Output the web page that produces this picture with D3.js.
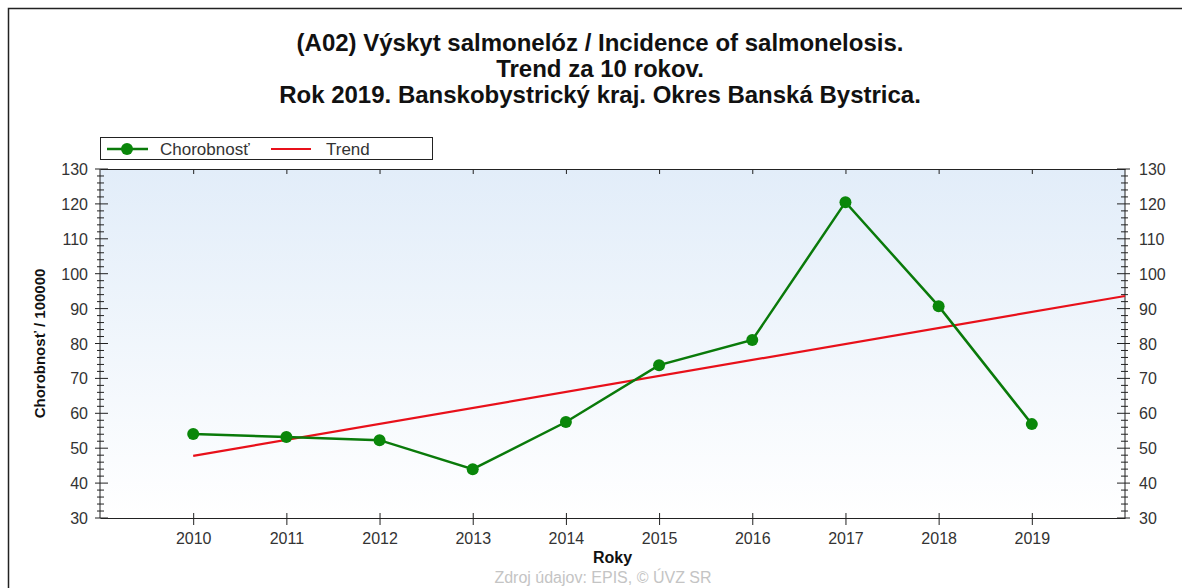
<!DOCTYPE html>
<html lang="sk">
<head>
    <meta charset="UTF-8">
    <title>Výskyt salmonelóz</title>
    <style>
        body { margin: 0; background: #fff; }
        text { font-family: "Liberation Sans", Arial, sans-serif; }
        .tick-label { font-size: 16px; fill: #333; }
    </style>
</head>
<body>
    <svg id="chart" width="1182" height="588"></svg>

    <script src="https://d3js.org/d3.v7.min.js"></script>
    <script>
        // values
        const years = [2010, 2011, 2012, 2013, 2014, 2015, 2016, 2017, 2018, 2019];
        const incidence = [54.1, 53.2, 52.3, 44.0, 57.5, 73.8, 81.0, 120.5, 90.7, 56.9];
        const trendYears = [2010, 2020];
        const trendValues = [47.8, 93.6];
        const yTicks = [30, 40, 50, 60, 70, 80, 90, 100, 110, 120, 130];
        const titleLines = [
            "(A02) Výskyt salmonelóz / Incidence of salmonelosis.",
            "Trend za 10 rokov.",
            "Rok 2019. Banskobystrický kraj. Okres Banská Bystrica."
        ];

        const svg = d3.select("#chart");
        const margin = { top: 169, right: 57, bottom: 70, left: 100 },
            width = 1182 - margin.left - margin.right,
            height = 588 - margin.top - margin.bottom;

        // outer frame
        svg.append("path")
            .attr("d", "M8.5,588 V8.5 H1182")
            .attr("fill", "none")
            .attr("stroke", "#222")
            .attr("stroke-width", 1.5);

        svg.selectAll(".title")
            .data(titleLines)
            .enter().append("text")
            .attr("class", "title")
            .attr("x", 600)
            .attr("y", (d, i) => 51 + i * 26)
            .attr("text-anchor", "middle")
            .attr("font-size", "24px")
            .attr("font-weight", "bold")
            .attr("fill", "#111")
            .text(d => d);

        const x = d3.scaleLinear().domain([2009, 2020]).range([0, width]);
        const y = d3.scaleLinear().domain([30, 130]).range([height, 0]);

        const defs = svg.append("defs");
        const grad = defs.append("linearGradient")
            .attr("id", "bg").attr("x1", 0).attr("y1", 0).attr("x2", 0).attr("y2", 1);
        grad.append("stop").attr("offset", "0%").attr("stop-color", "#e2edf9");
        grad.append("stop").attr("offset", "100%").attr("stop-color", "#ffffff");

        const g = svg.append("g")
            .attr("transform", `translate(${margin.left},${margin.top})`);

        g.append("rect")
            .attr("width", width)
            .attr("height", height)
            .attr("fill", "url(#bg)");

        // axes
        const minor = d3.range(30, 131, 2);
        const leftAxis = g.append("g");
        leftAxis.append("line").attr("y1", 0).attr("y2", height).attr("stroke", "#222");
        leftAxis.selectAll(".mt").data(minor).enter().append("line")
            .attr("x1", d => d % 10 === 0 ? -5 : -3)
            .attr("x2", d => d % 10 === 0 ? 8 : 4)
            .attr("y1", d => y(d)).attr("y2", d => y(d))
            .attr("stroke", "#222");
        leftAxis.selectAll(".tick-label").data(yTicks).enter().append("text")
            .attr("class", "tick-label")
            .attr("x", -12).attr("y", d => y(d) + 6)
            .attr("text-anchor", "end")
            .text(d => d);

        const rightAxis = g.append("g").attr("transform", `translate(${width},0)`);
        rightAxis.append("line").attr("y1", 0).attr("y2", height).attr("stroke", "#222");
        rightAxis.selectAll(".mt").data(minor).enter().append("line")
            .attr("x1", d => d % 10 === 0 ? -8 : -4)
            .attr("x2", d => d % 10 === 0 ? 5 : 3)
            .attr("y1", d => y(d)).attr("y2", d => y(d))
            .attr("stroke", "#222");
        rightAxis.selectAll(".tick-label").data(yTicks).enter().append("text")
            .attr("class", "tick-label")
            .attr("x", 14).attr("y", d => y(d) + 6)
            .text(d => d);

        g.append("g")
            .attr("transform", `translate(0,${height})`)
            .call(d3.axisBottom(x).tickValues(years).tickFormat(d3.format("d")).tickSize(7).tickSizeOuter(0))
            .call(a => a.select(".domain").attr("stroke", "#222"))
            .call(a => a.selectAll(".tick line").attr("y1", -5).attr("stroke", "#222"))
            .call(a => a.selectAll(".tick text")
                .attr("class", "tick-label").attr("dy", "1.0em").attr("font-family", null).attr("font-size", null).attr("fill", null));

        g.append("g")
            .call(d3.axisTop(x).tickValues(years).tickFormat("").tickSize(-5).tickSizeOuter(0))
            .call(a => a.select(".domain").attr("stroke", "#222"))
            .call(a => a.selectAll(".tick line").attr("stroke", "#222"));

        // trend
        const trendLine = d3.line().x(d => x(d[0])).y(d => y(d[1]));
        g.append("path")
            .datum(trendYears.map((t, i) => [t, trendValues[i]]))
            .attr("d", trendLine)
            .attr("fill", "none")
            .attr("stroke", "#e8101a")
            .attr("stroke-width", 2.2);

        // incidence series
        const pts = years.map((yr, i) => [yr, incidence[i]]);
        g.append("path")
            .datum(pts)
            .attr("d", trendLine)
            .attr("fill", "none")
            .attr("stroke", "#0a7a0a")
            .attr("stroke-width", 2.5);
        g.selectAll(".dot").data(pts).enter().append("circle")
            .attr("class", "dot")
            .attr("cx", d => x(d[0])).attr("cy", d => y(d[1]))
            .attr("r", 6)
            .attr("fill", "#0a870a");

        // axis titles
        g.append("text")
            .attr("x", x(2014.5)).attr("y", height + 45)
            .attr("text-anchor", "middle")
            .attr("font-size", "16px").attr("font-weight", "bold").attr("fill", "#111")
            .text("Roky");
        g.append("text")
            .attr("transform", `translate(-55,${height / 2}) rotate(-90)`)
            .attr("text-anchor", "middle")
            .attr("font-size", "15px").attr("font-weight", "bold").attr("fill", "#111")
            .text("Chorobnosť / 100000");

        svg.append("text")
            .attr("x", 603).attr("y", 583)
            .attr("text-anchor", "middle")
            .attr("font-size", "16px").attr("fill", "#c4c4c4")
            .text("Zdroj údajov: EPIS, © ÚVZ SR");

        // legend
        const leg = svg.append("g").attr("transform", "translate(100,137)");
        leg.append("rect").attr("x", 0.5).attr("y", 0.5).attr("width", 332).attr("height", 22)
            .attr("fill", "#fff").attr("stroke", "#222");
        leg.append("line").attr("x1", 7).attr("x2", 48).attr("y1", 12).attr("y2", 12)
            .attr("stroke", "#0a7a0a").attr("stroke-width", 2.5);
        leg.append("circle").attr("cx", 27).attr("cy", 12).attr("r", 6).attr("fill", "#0a870a");
        leg.append("text").attr("x", 60).attr("y", 18).attr("font-size", "17px").attr("fill", "#333")
            .text("Chorobnosť");
        leg.append("line").attr("x1", 171).attr("x2", 211).attr("y1", 12).attr("y2", 12)
            .attr("stroke", "#e8101a").attr("stroke-width", 2);
        leg.append("text").attr("x", 226).attr("y", 18).attr("font-size", "17px").attr("fill", "#333")
            .text("Trend");
    </script>
</body>
</html>
